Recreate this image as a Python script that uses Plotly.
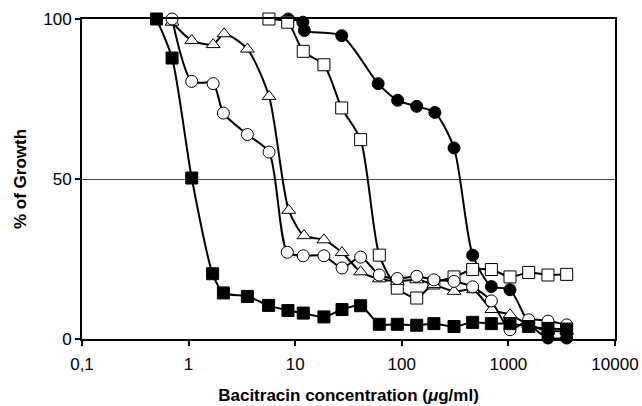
import plotly.graph_objects as go

# Filled squares
sq_f_x = [0.5, 0.70, 1.07, 1.68, 2.12, 3.56, 5.63, 8.55, 11.9, 18.6, 27.5, 41.1, 61.5, 90.7, 138, 200, 309, 462, 692, 1035, 1550, 2350, 3520]
sq_f_y = [100, 87.8, 50.3, 20.4, 14.4, 13.3, 10.5, 8.9, 8.1, 6.9, 9.2, 10.4, 4.6, 4.6, 4.3, 4.8, 3.9, 5.2, 4.8, 4.8, 3.9, 3.3, 3.1]

# Open circles
ci_o_x = [0.70, 1.07, 1.70, 2.12, 3.56, 5.69, 8.43, 11.9, 18.6, 27.5, 41.1, 61.5, 90.7, 138, 200, 309, 462, 692, 1035, 1550, 2350, 3520]
ci_o_y = [100, 80.5, 79.8, 70.6, 63.9, 58.4, 27.1, 26.0, 26.0, 22.2, 25.6, 20.0, 18.9, 19.6, 18.5, 18.0, 16.3, 11.9, 2.9, 6.0, 5.6, 4.4]

# Open triangles
tr_o_x = [0.70, 1.07, 1.70, 2.15, 3.56, 5.69, 8.7, 12.1, 18.6, 27.5, 41.1, 61.5, 90.7, 138, 200, 309, 470, 700, 1035, 1550, 2350, 3520]
tr_o_y = [99.0, 93.3, 92.0, 95.4, 90.6, 75.8, 40.2, 32.3, 31.0, 27.0, 21.0, 18.8, 18.0, 18.5, 17.0, 14.9, 15.4, 9.2, 7.6, 4.5, 2.5, 2.5]

# Open squares
sq_o_x = [5.67, 8.5, 11.9, 18.6, 27.3, 41.1, 61.5, 90.7, 138, 200, 309, 462, 692, 1035, 1550, 2350, 3520]
sq_o_y = [100, 99.0, 89.9, 85.7, 72.2, 62.3, 26.2, 15.9, 12.8, 17.5, 19.4, 21.7, 21.7, 19.4, 20.8, 20.0, 20.2]

# Filled circles
ci_f_x = [8.6, 11.8, 12.2, 27.3, 60, 91.4, 138, 204, 309, 462, 692, 1035, 1550, 2350, 3520]
ci_f_y = [100, 99.0, 96.4, 94.8, 79.8, 74.6, 72.7, 70.8, 59.7, 26.2, 16.4, 15.4, 5.0, 0.3, 0.3]

x_tickvals = [0.1, 1, 10, 100, 1000, 10000]
x_ticktext = ["0,1", "1", "10", "100", "1000", "10000"]
y_tickvals = [0, 50, 100]

FONT = "Liberation Sans, Arial, sans-serif"

fig = go.Figure()

def add(x, y, symbol, fill):
    fig.add_trace(go.Scatter(
        x=x, y=y, mode="lines+markers",
        line=dict(color="black", width=2, shape="spline", smoothing=0.7),
        marker=dict(symbol=symbol, size=12, color=fill,
                    line=dict(color="black", width=1)),
        cliponaxis=False, showlegend=False, hoverinfo="x+y"))

add(ci_f_x, ci_f_y, "circle", "black")
add(sq_o_x, sq_o_y, "square", "white")
add(tr_o_x, tr_o_y, "triangle-up", "white")
add(ci_o_x, ci_o_y, "circle", "white")
add(sq_f_x, sq_f_y, "square", "black")

fig.update_layout(
    width=642, height=406,
    margin=dict(l=82, r=27, t=19, b=67),
    paper_bgcolor="white", plot_bgcolor="white",
    font=dict(family=FONT, size=17, color="black"),
    showlegend=False,
)
fig.update_xaxes(
    type="log", range=[-1, 4], automargin=False,
    tickvals=x_tickvals, ticktext=x_ticktext,
    ticks="outside", ticklen=5, tickwidth=1.5, tickcolor="black",
    ticklabelstandoff=4,
    showline=True, linewidth=2, linecolor="black", mirror=True,
    showgrid=False, zeroline=False,
    tickfont=dict(size=17),
    title=dict(text="<b>Bacitracin concentration (<i>μ</i>g/ml)</b>", font=dict(size=17), standoff=16),
)
fig.update_yaxes(
    range=[0, 100], tickvals=y_tickvals, automargin=False,
    ticks="outside", ticklen=5, tickwidth=1.5, tickcolor="black",
    showline=True, linewidth=2, linecolor="black", mirror=True,
    showgrid=True, gridcolor="#444444", gridwidth=1, zeroline=False,
    tickfont=dict(size=17),
    title=dict(text="<b>% of Growth</b>", font=dict(size=17), standoff=12),
)

fig.write_html("out.html", config={"displayModeBar": False},
               post_script="document.body.style.margin='0px';document.body.style.overflow='hidden';")
